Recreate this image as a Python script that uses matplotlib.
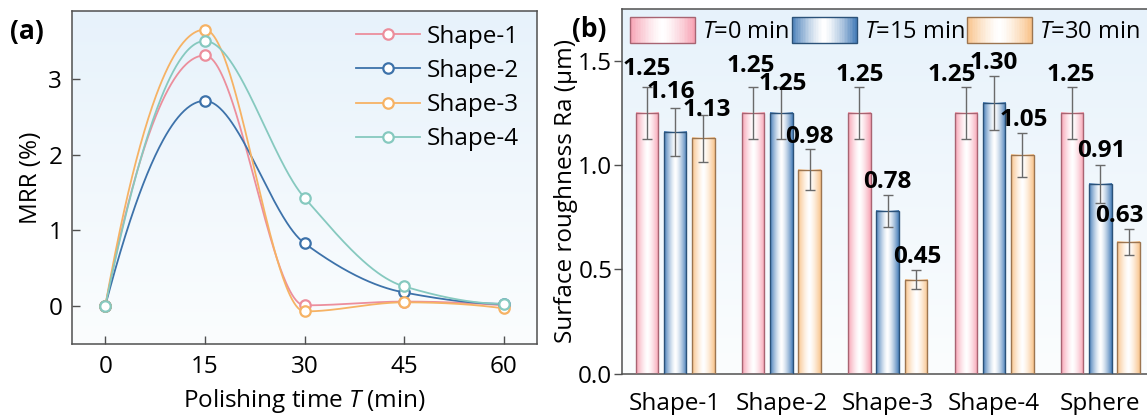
import numpy as np
import matplotlib
matplotlib.use("Agg")
import matplotlib.pyplot as plt
from matplotlib.colors import to_rgb
from matplotlib.legend_handler import HandlerBase
from matplotlib.patches import Rectangle

plt.rcParams['font.family'] = ['Open Sans', 'DejaVu Sans']
plt.rcParams['mathtext.fontset'] = 'custom'
plt.rcParams['mathtext.rm'] = 'Open Sans'
plt.rcParams['mathtext.it'] = 'Open Sans:italic'
plt.rcParams['font.size'] = 17.5

########### data (a) MRR vs polishing time
time_min = [0, 15, 30, 45, 60]
shape_names = ['Shape-1', 'Shape-2', 'Shape-3', 'Shape-4']
mrr_shape1 = [0, 3.31, 0.01, 0.06, 0.01]
mrr_shape2 = [0, 2.71, 0.83, 0.18, 0.03]
mrr_shape3 = [0, 3.65, -0.07, 0.05, -0.03]
mrr_shape4 = [0, 3.50, 1.43, 0.26, 0.03]

########### data (b) surface roughness
groups = ['Shape-1', 'Shape-2', 'Shape-3', 'Shape-4', 'Sphere']
series_labels = ['$T$=0 min', '$T$=15 min', '$T$=30 min']
ra_t0 = [1.25, 1.25, 1.25, 1.25, 1.25]
ra_t15 = [1.16, 1.25, 0.78, 1.30, 0.91]
ra_t30 = [1.13, 0.98, 0.45, 1.05, 0.63]
err_t0 = [0.125, 0.125, 0.125, 0.125, 0.125]
err_t15 = [0.116, 0.125, 0.078, 0.130, 0.091]
err_t30 = [0.113, 0.098, 0.045, 0.105, 0.063]

line_colors = ['#ec8e9c', '#3d72aa', '#f6b264', '#86c9bf']
bar_colors = ['#f7a3b4', '#4a80ba', '#f9c48c']
bar_edges = ['#a86472', '#2b5279', '#9c7550']

# label nudges (x in group units, y above error bar top)
lab_dx = [[0, -0.02, 0, -0.135, -0.01],
          [-0.04, 0.01, 0, 0, 0.005],
          [0.03, 0, 0.01, 0.01, -0.09]]
lab_dy = [[0.06, 0.076, 0.031, 0.031, 0.031],
          [0.047, -0.015, 0.032, 0.032, 0.041],
          [-0.004, 0.029, 0.035, 0.032, 0.037]]


def pchip(x, y, xs):
    # shape preserving cubic (Fritsch-Carlson), just for drawing the smooth curve
    x = np.asarray(x, float)
    y = np.asarray(y, float)
    h = np.diff(x)
    d = np.diff(y) / h
    n = len(x)
    m = np.zeros(n)
    for k in range(1, n - 1):
        if d[k - 1] * d[k] > 0:
            w1 = 2 * h[k] + h[k - 1]
            w2 = h[k] + 2 * h[k - 1]
            m[k] = (w1 + w2) / (w1 / d[k - 1] + w2 / d[k])
    for k, (a, b, hh0, hh1) in ((0, (d[0], d[1], h[0], h[1])), (n - 1, (d[-1], d[-2], h[-1], h[-2]))):
        s = ((2 * hh0 + hh1) * a - hh0 * b) / (hh0 + hh1)
        if np.sign(s) != np.sign(a):
            s = 0
        elif np.sign(a) != np.sign(b) and abs(s) > abs(3 * a):
            s = 3 * a
        m[k] = s
    idx = np.clip(np.searchsorted(x, xs) - 1, 0, n - 2)
    t = (xs - x[idx]) / h[idx]
    h00 = 2 * t**3 - 3 * t**2 + 1
    h10 = t**3 - 2 * t**2 + t
    h01 = -2 * t**3 + 3 * t**2
    h11 = t**3 - t**2
    return h00 * y[idx] + h10 * h[idx] * m[idx] + h01 * y[idx + 1] + h11 * h[idx] * m[idx + 1]


def gradient_row(color, n=64):
    t = np.linspace(0, 1, n)
    w = np.abs(2 * t - 1) ** 1.4
    c = np.array(to_rgb(color))
    return (1 - w)[:, None] * np.ones(3) + w[:, None] * c


def background(ax, xlim, ylim):
    top = np.array(to_rgb('#e7f2fb'))
    bot = np.array(to_rgb('#fbfdfe'))
    s = np.linspace(0, 1, 100)[:, None]
    img = (top * (1 - s) + bot * s)[:, None, :]
    ax.imshow(img, extent=[xlim[0], xlim[1], ylim[0], ylim[1]], aspect='auto',
              zorder=0, interpolation='bilinear')


class GradientHandler(HandlerBase):
    def create_artists(self, legend, orig_handle, xdescent, ydescent, width, height, fontsize, trans):
        cols = gradient_row(orig_handle.get_facecolor(), 40)
        arts = []
        n = len(cols)
        for i in range(n):
            arts.append(Rectangle((-xdescent + width * i / n, -ydescent), width / n * 1.08, height,
                                  facecolor=cols[i], edgecolor='none', transform=trans))
        arts.append(Rectangle((-xdescent, -ydescent), width, height, facecolor='none',
                              edgecolor=orig_handle.get_edgecolor(), lw=1.0, transform=trans))
        return arts


fig = plt.figure(figsize=(11.47, 4.15), dpi=100)
spine_col = '#505050'

########### (a)
ax1 = fig.add_axes([72 / 1147, 71 / 415, 465 / 1147, 333.3 / 415])
xl1, yl1 = (-5, 65), (-0.5, 3.9)
background(ax1, xl1, yl1)
xs = np.linspace(0, 60, 400)
for name, vals, col in zip(shape_names, [mrr_shape1, mrr_shape2, mrr_shape3, mrr_shape4], line_colors):
    ax1.plot(xs, pchip(time_min, vals, xs), '-', color=col, lw=1.3, zorder=2)
    ax1.plot(time_min, vals, 'o', color=col, mfc='white', mew=1.6, ms=7.5, zorder=3)
    ax1.plot([], [], '-o', color=col, mfc='white', mew=1.6, ms=7.5, lw=1.3, label=name)
ax1.set_xlim(xl1)
ax1.set_ylim(yl1)
ax1.set_xticks(time_min)
ax1.set_yticks([0, 1, 2, 3])
ax1.tick_params(direction='in', length=6, width=1, color=spine_col)
ax1.tick_params(axis='y', pad=7)
ax1.tick_params(axis='x', pad=8)
ax1.set_xlabel('Polishing time $T$ (min)', labelpad=6)
ax1.set_ylabel('MRR (%)', labelpad=4)
for sp in ax1.spines.values():
    sp.set_color(spine_col)
    sp.set_linewidth(1.1)
ax1.legend(loc='upper right', bbox_to_anchor=(0.962, 0.958), frameon=False, borderpad=0,
           borderaxespad=0, handlelength=2.65, handletextpad=0.28, labelspacing=0.42)
fig.text(10 / 1147, 1 - 32 / 415, '(a)', fontsize=19, fontweight='bold', va='center', ha='left')

########### (b)
ax2 = fig.add_axes([622 / 1147, 41.5 / 415, 531.5 / 1147, 364.2 / 415])
xl2, yl2 = (-0.5, 4.5), (0, 1.75)
background(ax2, xl2, yl2)
pos = np.arange(len(groups))
width = 0.212
offsets = [-0.266, 0, 0.266]
all_vals = [ra_t0, ra_t15, ra_t30]
all_errs = [err_t0, err_t15, err_t30]
handles = []
for k in range(3):
    xk = pos + offsets[k]
    row = gradient_row(bar_colors[k])[None, :, :]
    for xi, v in zip(xk, all_vals[k]):
        ax2.imshow(row, extent=[xi - width / 2, xi + width / 2, 0, v], aspect='auto',
                   zorder=2, interpolation='bilinear')
    ax2.bar(xk, all_vals[k], width, facecolor='none', edgecolor=bar_edges[k], lw=1.0, zorder=3)
    ax2.errorbar(xk, all_vals[k], yerr=all_errs[k], fmt='none', ecolor='#6a6a6a', elinewidth=1.0,
                 capsize=3.5, capthick=1.0, zorder=4)
    for j, (xi, v, e) in enumerate(zip(xk, all_vals[k], all_errs[k])):
        ax2.text(xi + lab_dx[k][j], v + e + lab_dy[k][j], f'{v:.2f}', ha='center', va='baseline',
                 fontweight='bold', fontsize=17.5, zorder=5)
    handles.append(Rectangle((0, 0), 1, 1, facecolor=bar_colors[k], edgecolor=bar_edges[k]))
ax2.set_xlim(xl2)
ax2.set_ylim(yl2)
ax2.set_xticks(pos)
ax2.set_xticklabels(groups)
ax2.set_yticks([0, 0.5, 1.0, 1.5])
ax2.set_yticklabels(['0.0', '0.5', '1.0', '1.5'])
ax2.tick_params(axis='x', length=0, pad=13)
ax2.tick_params(axis='y', direction='out', length=5.5, width=1, pad=1.5, color=spine_col)
ax2.set_ylabel('Surface roughness Ra (μm)', labelpad=0)
for sp in ax2.spines.values():
    sp.set_color(spine_col)
    sp.set_linewidth(1.1)
ax2.legend(handles, series_labels, handler_map={Rectangle: GradientHandler()}, ncol=3,
           loc='upper left', bbox_to_anchor=(0.015, 0.98), frameon=False, borderpad=0,
           borderaxespad=0, handlelength=2.75, handleheight=1.36, handletextpad=0.3,
           columnspacing=0.1, fontsize=17)
fig.text(572 / 1147, 1 - 30 / 415, '(b)', fontsize=19, fontweight='bold', va='center', ha='left')

fig.savefig('out.png', dpi=100)
